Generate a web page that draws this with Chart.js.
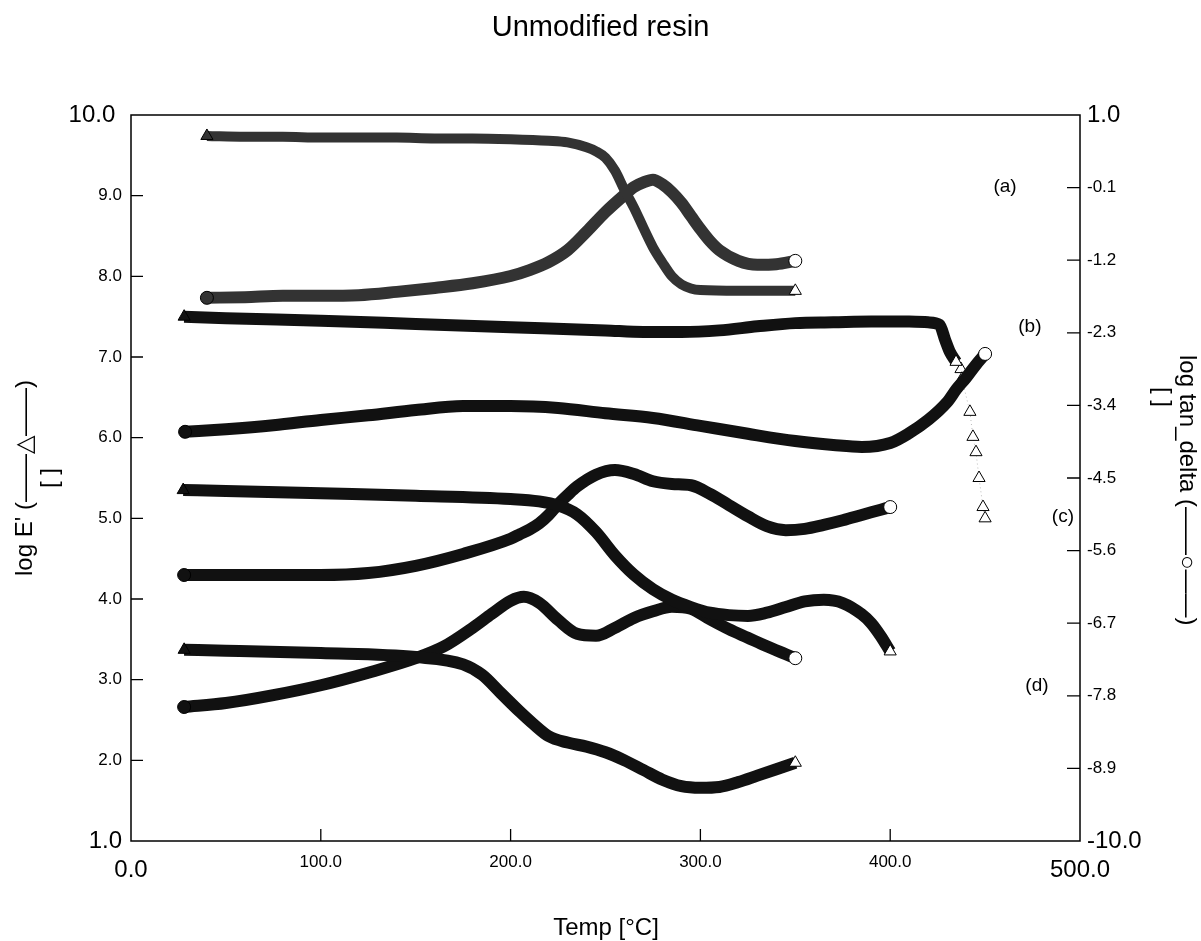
<!DOCTYPE html>
<html>
<head>
<meta charset="utf-8">
<script src="https://cdn.jsdelivr.net/npm/chart.js@4.4.1/dist/chart.umd.min.js"></script>
<style>
  html, body { margin: 0; padding: 0; background: #fff; }
  #wrap { width: 1201px; height: 941px; }
</style>
</head>
<body>
<div id="wrap"><canvas id="chart" width="1201" height="941"></canvas></div>
<script>
// temperatures (°C) and readings for each curve
var tempA_E = [40, 60, 80, 100, 120, 140, 160, 180, 200, 220, 230, 240, 245, 250, 255, 260, 265, 270, 275, 280, 285, 290, 295, 300, 320, 340, 350];
var logE_A = [9.74, 9.73, 9.73, 9.72, 9.72, 9.72, 9.71, 9.71, 9.70, 9.68, 9.66, 9.60, 9.55, 9.47, 9.31, 9.07, 8.85, 8.60, 8.36, 8.17, 8.00, 7.90, 7.85, 7.83, 7.82, 7.82, 7.82];
var tempA_T = [40, 60, 80, 100, 120, 140, 160, 180, 200, 210, 220, 230, 240, 250, 260, 265, 270, 275, 280, 285, 290, 295, 300, 305, 310, 320, 330, 340, 350];
var tanD_A = [-1.77, -1.76, -1.74, -1.74, -1.73, -1.68, -1.62, -1.55, -1.44, -1.35, -1.23, -1.05, -0.77, -0.47, -0.21, -0.09, -0.02, 0.02, -0.05, -0.17, -0.33, -0.53, -0.73, -0.91, -1.05, -1.21, -1.27, -1.26, -1.21];

var tempB_E = [28, 50, 100, 150, 200, 250, 270, 290, 310, 330, 350, 370, 390, 410, 420, 426, 429, 431.5, 434.7];
var logE_B = [7.50, 7.48, 7.45, 7.41, 7.37, 7.33, 7.31, 7.31, 7.33, 7.38, 7.42, 7.43, 7.44, 7.44, 7.43, 7.40, 7.21, 7.06, 6.94];
var tempB_Etail = [437.3, 437.8, 442.0, 443.6, 445.2, 446.8, 448.9, 450.0];
var logE_Btail = [6.85, 6.73, 6.32, 6.01, 5.82, 5.50, 5.14, 5.00];
var tempB_T = [28.5, 50, 75, 100, 125, 150, 175, 200, 225, 250, 275, 300, 325, 350, 370, 385, 400, 410, 420, 430, 435, 440, 445, 450];
var tanD_B = [-3.80, -3.76, -3.70, -3.62, -3.55, -3.47, -3.41, -3.41, -3.44, -3.52, -3.59, -3.71, -3.83, -3.94, -4.00, -4.03, -3.97, -3.82, -3.62, -3.35, -3.15, -2.98, -2.79, -2.62];

var tempC_E = [27.5, 50, 100, 150, 200, 215, 225, 235, 245, 255, 265, 275, 285, 295, 305, 315, 325, 335, 345, 355, 365, 375, 385, 390, 395, 400];
var logE_C = [5.35, 5.34, 5.31, 5.28, 5.24, 5.21, 5.16, 5.05, 4.83, 4.54, 4.30, 4.12, 3.99, 3.90, 3.83, 3.80, 3.79, 3.83, 3.90, 3.97, 3.99, 3.95, 3.81, 3.70, 3.54, 3.35];
var tempC_T = [28, 50, 100, 125, 150, 175, 200, 205, 210, 215, 220, 225, 230, 235, 245, 255, 265, 275, 285, 295, 305, 315, 325, 335, 345, 355, 365, 375, 385, 395, 400];
var tanD_C = [-5.97, -5.97, -5.97, -5.94, -5.83, -5.65, -5.42, -5.35, -5.28, -5.19, -5.06, -4.90, -4.76, -4.63, -4.45, -4.38, -4.44, -4.55, -4.59, -4.61, -4.74, -4.91, -5.08, -5.23, -5.29, -5.27, -5.21, -5.14, -5.06, -4.98, -4.94];

var tempD_E = [28, 50, 100, 150, 175, 185, 195, 205, 212, 220, 230, 240, 250, 260, 270, 280, 290, 300, 310, 320, 330, 340, 350];
var logE_D = [3.37, 3.36, 3.33, 3.28, 3.19, 3.06, 2.83, 2.60, 2.45, 2.30, 2.22, 2.17, 2.10, 2.00, 1.88, 1.76, 1.68, 1.66, 1.67, 1.73, 1.81, 1.89, 1.97];
var tempD_T = [28, 50, 75, 100, 125, 150, 165, 180, 190, 200, 207, 215, 225, 235, 245, 255, 265, 275, 285, 295, 305, 315, 325, 335, 345, 350];
var tanD_D = [-7.97, -7.91, -7.79, -7.64, -7.45, -7.23, -7.05, -6.77, -6.56, -6.36, -6.30, -6.39, -6.65, -6.86, -6.89, -6.77, -6.62, -6.52, -6.45, -6.48, -6.64, -6.79, -6.92, -7.05, -7.17, -7.23];

// axis ticks
var tempTicks = [0, 100, 200, 300, 400, 500];
var logETicks = [1, 2, 3, 4, 5, 6, 7, 8, 9, 10];
var tanTicks = [1.0, -0.1, -1.2, -2.3, -3.4, -4.5, -5.6, -6.7, -7.8, -8.9, -10.0];

// curve labels: text, temp, log E'
var curveNames = ["(a)", "(b)", "(c)", "(d)"];
var curveNameT = [460.5, 473.6, 491, 477.3];
var curveNameE = [9.11, 7.37, 5.02, 2.92];

var FONT = "'Liberation Sans', Arial, Helvetica, sans-serif";

function pts(xs, ys) {
    return xs.map(function (x, i) { return { x: x, y: ys[i] }; });
}

// a curve of densely packed markers: a thick band, with open markers only at its ends
function band(data, axis, style, width, color) {
    var last = data.length - 1;
    return {
        data: data,
        yAxisID: axis,
        borderColor: color,
        borderWidth: width,
        cubicInterpolationMode: "monotone",
        pointStyle: style,
        pointRadius: function (ctx) {
            if (ctx.dataIndex !== 0 && ctx.dataIndex !== last) return 0;
            return style === "triangle" ? 7 : 6.5;
        },
        pointBorderWidth: 1,
        pointBorderColor: "#000",
        pointBackgroundColor: function (ctx) { return ctx.dataIndex === last ? "#fff" : color; },
        borderCapStyle: "butt",
        borderJoinStyle: "round",
    };
}

var datasets = [
    band(pts(tempA_E, logE_A), "y", "triangle", 10, "#333"),
    band(pts(tempA_T, tanD_A), "y1", "circle", 12, "#333"),
    band(pts(tempB_E, logE_B), "y", "triangle", 12, "#111"),
    band(pts(tempB_T, tanD_B), "y1", "circle", 12, "#111"),
    band(pts(tempC_E, logE_C), "y", "triangle", 12, "#111"),
    band(pts(tempC_T, tanD_C), "y1", "circle", 12, "#111"),
    band(pts(tempD_E, logE_D), "y", "triangle", 12, "#111"),
    band(pts(tempD_T, tanD_D), "y1", "circle", 12, "#111"),
    {
        data: pts(tempB_Etail, logE_Btail),
        yAxisID: "y",
        borderColor: "#bbb",
        borderWidth: 1,
        borderDash: [1, 3],
        pointStyle: "triangle",
        pointRadius: 7,
        pointBorderWidth: 1,
        pointBorderColor: "#000",
        pointBackgroundColor: "#fff",
    },
];

function isEndTick(ctx) {
    var s = ctx.scale;
    var v = ctx.tick ? ctx.tick.value : 0;
    return Math.abs(v - s.min) < 1e-6 || Math.abs(v - s.max) < 1e-6;
}

function tickFont(ctx) {
    return isEndTick(ctx) ? { family: FONT, size: 24, lineHeight: 1.5 } : { family: FONT, size: 17, lineHeight: 1.2 };
}

function fixedTicks(list) {
    return function (scale) {
        scale.ticks = list.map(function (v) { return { value: v }; });
    };
}

var framePlugin = {
    id: "frame",
    afterDraw: function (chart) {
        var ctx = chart.ctx;
        var a = chart.chartArea;
        var sx = chart.scales.x, sy = chart.scales.y, sy1 = chart.scales.y1;
        ctx.save();
        ctx.strokeStyle = "#000";
        ctx.lineWidth = 1.5;
        ctx.strokeRect(a.left, a.top, a.right - a.left, a.bottom - a.top);
        ctx.lineWidth = 1.3;
        ctx.beginPath();
        tempTicks.forEach(function (t) {
            if (t === sx.min || t === sx.max) return;
            var px = sx.getPixelForValue(t);
            ctx.moveTo(px, a.bottom);
            ctx.lineTo(px, a.bottom - 12);
        });
        logETicks.forEach(function (t) {
            if (t === sy.min || t === sy.max) return;
            var py = sy.getPixelForValue(t);
            ctx.moveTo(a.left, py);
            ctx.lineTo(a.left + 12, py);
        });
        tanTicks.forEach(function (t) {
            if (t === sy1.min || t === sy1.max) return;
            var py = sy1.getPixelForValue(t);
            ctx.moveTo(a.right, py);
            ctx.lineTo(a.right - 13, py);
        });
        ctx.stroke();

        // curve names
        ctx.fillStyle = "#000";
        ctx.font = "19px " + FONT;
        ctx.textAlign = "center";
        ctx.textBaseline = "middle";
        curveNames.forEach(function (n, i) {
            ctx.fillText(n, sx.getPixelForValue(curveNameT[i]), sy.getPixelForValue(curveNameE[i]));
        });

        // axis titles
        ctx.font = "24px " + FONT;
        ctx.fillText("Temp [°C]", 606, 928);

        ctx.save();
        ctx.translate(25, 478);
        ctx.rotate(-Math.PI / 2);
        ctx.fillText("log E' (\u2014\u2014\u25B3\u2014\u2014)", 0, 0);
        ctx.restore();
        ctx.save();
        ctx.translate(50, 478);
        ctx.rotate(-Math.PI / 2);
        ctx.fillText("[ ]", 0, 0);
        ctx.restore();

        ctx.save();
        ctx.translate(1187, 355);
        ctx.rotate(Math.PI / 2);
        ctx.textAlign = "left";
        ctx.fillText("log tan_delta (\u2014\u2014\u25CB\u2014\u2014)", 0, 0);
        ctx.restore();
        ctx.save();
        ctx.translate(1162, 397);
        ctx.rotate(Math.PI / 2);
        ctx.fillText("[ ]", 0, 0);
        ctx.restore();
        ctx.restore();
    },
};

new Chart(document.getElementById("chart"), {
    type: "line",
    data: { datasets: datasets },
    plugins: [framePlugin],
    options: {
        responsive: false,
        animation: false,
        events: [],
        layout: { padding: 0 },
        plugins: {
            legend: { display: false },
            tooltip: { enabled: false },
            title: {
                display: true,
                text: "Unmodified resin",
                color: "#000",
                font: { family: FONT, size: 29, weight: "normal", lineHeight: 1.2 },
                padding: { top: 11, bottom: 69.2 },
            },
        },
        scales: {
            x: {
                type: "linear",
                position: "bottom",
                min: 0,
                max: 500,
                afterBuildTicks: fixedTicks(tempTicks),
                afterFit: function (s) { s.height = 100; },
                grid: { display: false, drawTicks: false },
                border: { display: false },
                ticks: {
                    color: "#000",
                    padding: 11,
                    maxRotation: 0,
                    font: tickFont,
                    callback: function (v) { return v.toFixed(1); },
                },
            },
            y: {
                type: "linear",
                position: "left",
                min: 1,
                max: 10,
                afterBuildTicks: fixedTicks(logETicks),
                afterFit: function (s) { s.width = 131; },
                grid: { display: false, drawTicks: false },
                border: { display: false },
                ticks: {
                    color: "#000",
                    padding: 9,
                    font: tickFont,
                    // the top label sits a little further from the axis in the original
                    callback: function (v) { return v === 10 ? v.toFixed(1) + " " : v.toFixed(1); },
                },
            },
            y1: {
                type: "linear",
                position: "right",
                min: -10,
                max: 1,
                afterBuildTicks: fixedTicks(tanTicks),
                afterFit: function (s) { s.width = 121; },
                grid: { display: false, drawTicks: false },
                border: { display: false },
                ticks: {
                    color: "#000",
                    padding: 7,
                    font: tickFont,
                    callback: function (v) { return v.toFixed(1); },
                },
            },
        },
    },
});
</script>
</body>
</html>
